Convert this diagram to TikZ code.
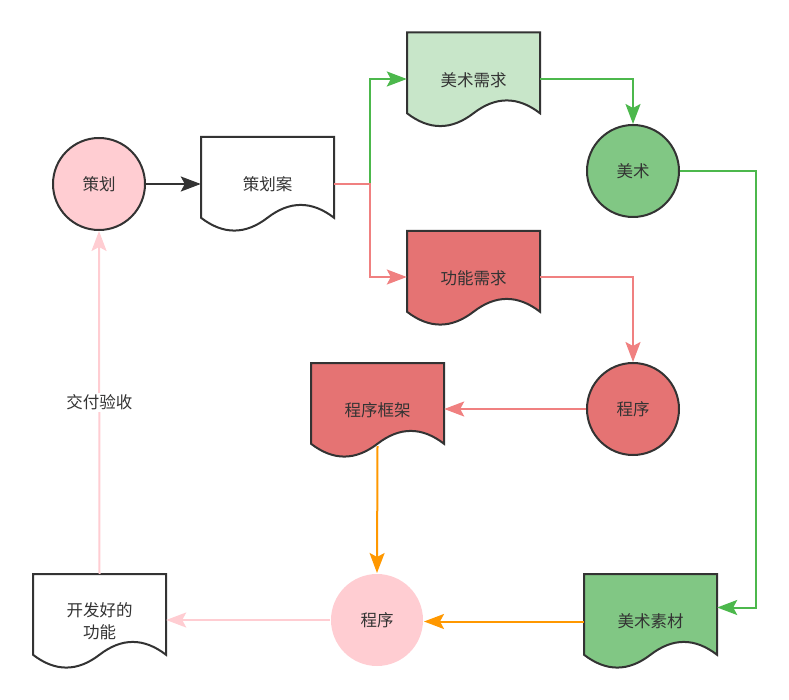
\documentclass[tikz,border=0pt]{standalone}
\usepackage{fontspec}
\setmainfont{Noto Sans CJK SC}
\usetikzlibrary{arrows.meta,calc}
\definecolor{strk}{HTML}{333333}
\definecolor{pinkf}{HTML}{FFCDD2}
\definecolor{pinkl}{HTML}{FFCDD2}
\definecolor{lgreen}{HTML}{C8E6C9}
\definecolor{dgreen}{HTML}{81C784}
\definecolor{redf}{HTML}{E57373}
\definecolor{redl}{HTML}{F08080}
\definecolor{greenl}{HTML}{4CB84C}
\definecolor{orangel}{HTML}{FF9800}
\definecolor{txt}{HTML}{333333}
\tikzset{
  shapeline/.style={draw=strk, line width=2pt},
  circ/.style={circle, shapeline, minimum size=92pt, inner sep=0pt, text=txt, font=\fontsize{16.5}{20}\selectfont},
  doctext/.style={rectangle, minimum width=133pt, minimum height=95pt, inner sep=0pt, text=txt, align=center, font=\fontsize{16.5}{22}\selectfont},
  conn/.style={line width=2pt, -{Stealth[length=20pt,width=15pt,inset=4pt]}},
  lbl/.style={fill=white, text=txt, inner sep=2pt, font=\fontsize{16.5}{20}\selectfont}
}
% document shape: name, cx, cy, fill, text
\newcommand{\docbox}[5]{%
  \filldraw[shapeline, fill=#4]
    ({#2-66.5},{#3-47.5}) -- ({#2+66.5},{#3-47.5}) -- ({#2+66.5},{#3-47.5+80.75})
    .. controls ({#2-66.5+110.83},{#3-47.5+63.65}) and ({#2-66.5+88.67},{#3-47.5+63.65}) .. ({#2},{#3-47.5+80.75})
    .. controls ({#2-66.5+44.33},{#3-47.5+97.85}) and ({#2-66.5+22.17},{#3-47.5+97.85}) .. ({#2-66.5},{#3-47.5+80.75})
    -- cycle;
  \node[doctext] (#1) at (#2,#3) {#5};
}
\begin{document}
\begin{tikzpicture}[x=1pt,y=-1pt]
\useasboundingbox (0,0) rectangle (789,700);
% shapes
\node[circ, fill=pinkf] (ch) at (99,184) {策划};
\docbox{fa}{267.5}{184.5}{white}{策划案}
\docbox{msq}{473.5}{80}{lgreen}{美术需求}
\node[circ, fill=dgreen] (ms) at (633,171) {美术};
\docbox{gn}{473.5}{278.5}{redf}{功能需求}
\node[circ, fill=redf] (cx) at (633,409) {程序};
\docbox{kj}{377.5}{410.5}{redf}{程序框架}
\docbox{kf}{99.5}{621.5}{white}{开发好的\\功能}
\docbox{sc}{650.5}{621.5}{dgreen}{美术素材}
\node[circ, fill=pinkf, draw=none] (cxp) at (377,620) {程序};
% connectors
\draw[conn, strk] (ch.east) -- (ch.east -| fa.west);
\draw[conn, greenl] (fa.east) -- ++(36,0) |- ([yshift=1pt]msq.west);
\draw[conn, redl] (fa.east) -- ++(36,0) |- ([yshift=1.5pt]gn.west);
\draw[conn, greenl] ([yshift=1pt]msq.east) -| (ms.north);
\draw[conn, greenl] (ms.east) -- ++(76,0) |- ([yshift=14pt]sc.east);
\draw[conn, redl] ([yshift=1.5pt]gn.east) -| (cx.north);
\draw[conn, redl] (cx.west) -- (cx.west -| kj.east);
\draw[conn, orangel] ([yshift=12pt]kj.south) -- (cxp.north);
\draw[conn, orangel] (sc.west) -- (sc.west -| cxp.east);
\draw[conn, pinkl] (cxp.west) -- (cxp.west -| kf.east);
\draw[conn, pinkl] (kf.north) -- node[lbl] (lb) {交付验收} (ch.south);
\end{tikzpicture}
\end{document}
